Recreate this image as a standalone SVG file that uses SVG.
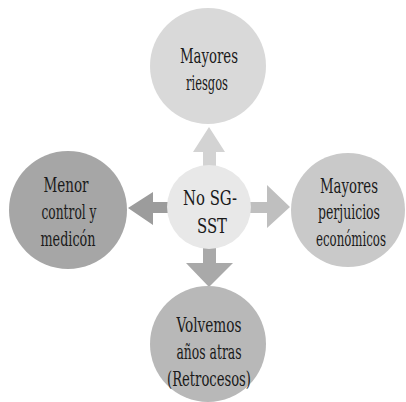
<svg xmlns="http://www.w3.org/2000/svg" width="406" height="402" viewBox="0 0 406 402">
<style>
text{font-size:20px;fill:#1a1a1a;text-anchor:middle;font-stretch:condensed}
</style>
<rect width="406" height="402" fill="#fff"/>
<g id="connectors">
<polygon points="209,127 225,152 216,152 216,168 203,168 203,152 193,152" fill="#d3d3d3"/>
<polygon points="128,208 153,192 153,202 170,202 170,213 153,213 153,225" fill="#9c9c9c"/>
<polygon points="290,207 267,185 267,202 250,202 250,213 267,213 267,228" fill="#bfbfbf"/>
<polygon points="209,287 233,263 216,263 216,246 203,246 203,263 186,263" fill="#a9a9a9"/>
</g>
<g font-family="'DejaVu Serif Condensed', 'DejaVu Serif', serif" lengthAdjust="spacingAndGlyphs">
<g id="center"><circle cx="209" cy="207" r="42" fill="#e8e8e8"/><text x="210" y="205" textLength="54" lengthAdjust="spacingAndGlyphs">No SG-</text><text x="212" y="233" textLength="30" lengthAdjust="spacingAndGlyphs">SST</text></g>
<g id="top"><circle cx="208" cy="66" r="58" fill="#d9d9d9"/><text x="209" y="63" textLength="58" lengthAdjust="spacingAndGlyphs">Mayores</text><text x="207" y="90" textLength="42" lengthAdjust="spacingAndGlyphs">riesgos</text></g>
<g id="left"><circle cx="68" cy="210" r="59" fill="#a6a6a6"/><text x="66" y="192" textLength="45" lengthAdjust="spacingAndGlyphs">Menor</text><text x="69" y="219" textLength="55" lengthAdjust="spacingAndGlyphs">control y</text><text x="68" y="246" textLength="55" lengthAdjust="spacingAndGlyphs">medicón</text></g>
<g id="right"><circle cx="348" cy="210" r="57" fill="#c9c9c9"/><text x="349" y="193" textLength="58" lengthAdjust="spacingAndGlyphs">Mayores</text><text x="349" y="219" textLength="62" lengthAdjust="spacingAndGlyphs">perjuicios</text><text x="351" y="246" textLength="70" lengthAdjust="spacingAndGlyphs">económicos</text></g>
<g id="bottom"><circle cx="208" cy="344" r="58" fill="#b8b8b8"/><text x="209" y="332" textLength="65" lengthAdjust="spacingAndGlyphs">Volvemos</text><text x="209" y="359" textLength="65" lengthAdjust="spacingAndGlyphs">años atras</text><text x="209" y="386" textLength="84" lengthAdjust="spacingAndGlyphs">(Retrocesos)</text></g>
</g>
</svg>
